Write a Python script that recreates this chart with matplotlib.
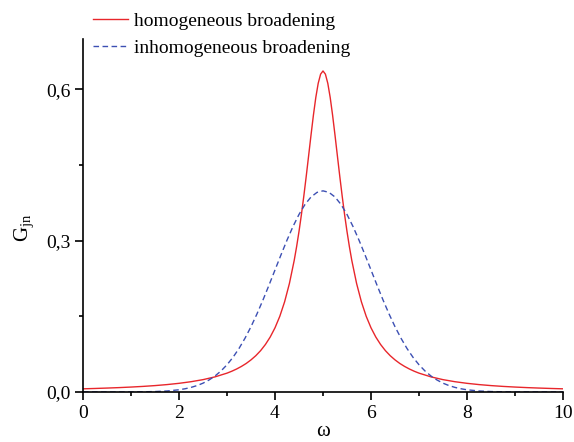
import matplotlib
matplotlib.use("Agg")
import matplotlib.pyplot as plt
from matplotlib.ticker import MultipleLocator, FuncFormatter

plt.rcParams['font.family'] = ['Liberation Serif', 'DejaVu Serif']
plt.rcParams['mathtext.fontset'] = 'custom'
plt.rcParams['mathtext.rm'] = 'Liberation Serif'
plt.rcParams['mathtext.it'] = 'Liberation Serif:italic'

# homogeneous broadening
omega_h = [0.0, 0.25, 0.5, 0.75, 1.0, 1.25, 1.5, 1.75, 2.0, 2.25, 2.5, 2.75,
           3.0, 3.1, 3.2, 3.3, 3.4, 3.5, 3.6, 3.7, 3.8, 3.9, 4.0, 4.1, 4.2, 4.3,
           4.4, 4.45, 4.5, 4.55, 4.6, 4.65, 4.7, 4.75, 4.8, 4.85, 4.9, 4.95, 5.0,
           5.05, 5.1, 5.15, 5.2, 5.25, 5.3, 5.35, 5.4, 5.45, 5.5, 5.55, 5.6, 5.7,
           5.8, 5.9, 6.0, 6.1, 6.2, 6.3, 6.4, 6.5, 6.6, 6.7, 6.8, 6.9, 7.0,
           7.25, 7.5, 7.75, 8.0, 8.25, 8.5, 8.75, 9.0, 9.25, 9.5, 9.75, 10.0]
g_homog = [0.0063, 0.0070, 0.0078, 0.0087, 0.0098, 0.0111, 0.0127, 0.0147, 0.0172,
           0.0204, 0.0245, 0.0300,
           0.0374, 0.0412, 0.0456, 0.0507, 0.0566, 0.0637, 0.0720, 0.0820, 0.0942,
           0.1090, 0.1273, 0.1501, 0.1788, 0.2151, 0.2609, 0.2881, 0.3183, 0.3517,
           0.3882, 0.4273, 0.4681, 0.5093, 0.5488, 0.5840, 0.6121, 0.6303, 0.6366,
           0.6303, 0.6121, 0.5840, 0.5488, 0.5093, 0.4681, 0.4273, 0.3882, 0.3517,
           0.3183, 0.2881, 0.2609, 0.2151, 0.1788, 0.1501, 0.1273, 0.1090, 0.0942,
           0.0820, 0.0720, 0.0637, 0.0566, 0.0507, 0.0456, 0.0412, 0.0374,
           0.0300, 0.0245, 0.0204, 0.0172, 0.0147, 0.0127, 0.0111, 0.0098, 0.0087,
           0.0078, 0.0070, 0.0063]

# inhomogeneous broadening
omega_i = [0.0, 0.25, 0.5, 0.75, 1.0, 1.25, 1.5, 1.75, 2.0, 2.125, 2.25, 2.375,
           2.5, 2.625, 2.75, 2.875, 3.0, 3.125, 3.25, 3.375, 3.5, 3.625, 3.75,
           3.875, 4.0, 4.125, 4.25, 4.375, 4.5, 4.625, 4.75, 4.875, 5.0, 5.125,
           5.25, 5.375, 5.5, 5.625, 5.75, 5.875, 6.0, 6.125, 6.25, 6.375, 6.5,
           6.625, 6.75, 6.875, 7.0, 7.125, 7.25, 7.375, 7.5, 7.625, 7.75, 7.875,
           8.0, 8.25, 8.5, 8.75, 9.0, 9.25, 9.5, 9.75, 10.0]
g_inhomog = [0.0, 0.0, 0.0, 0.0, 0.0001, 0.0004, 0.0009, 0.0020, 0.0044, 0.0064,
             0.0091, 0.0127, 0.0175, 0.0238, 0.0317, 0.0417, 0.0540, 0.0688, 0.0863,
             0.1066, 0.1295, 0.1550, 0.1826, 0.2119, 0.2420, 0.2720, 0.3011, 0.3282,
             0.3521, 0.3719, 0.3867, 0.3958, 0.3989, 0.3958, 0.3867, 0.3719, 0.3521,
             0.3282, 0.3011, 0.2720, 0.2420, 0.2119, 0.1826, 0.1550, 0.1295, 0.1066,
             0.0863, 0.0688, 0.0540, 0.0417, 0.0317, 0.0238, 0.0175, 0.0127, 0.0091,
             0.0064, 0.0044, 0.0020, 0.0009, 0.0004, 0.0001, 0.0, 0.0, 0.0, 0.0]

labels = ['homogeneous broadening', 'inhomogeneous broadening']

fig = plt.figure(figsize=(5.74, 4.42), dpi=100)
ax = fig.add_axes([83/574, 1-392/442, (563-83)/574, (392-39)/442])

ax.plot(omega_h, g_homog, color='#e8262b', lw=1.0, label=labels[0])
ax.plot(omega_i, g_inhomog, color='#3c4fb3', lw=1.0, linestyle=(0, (4, 2.5)), label=labels[1])

ax.set_xlim(0, 10)
ax.set_ylim(0, 0.7)
ax.xaxis.set_major_locator(MultipleLocator(2))
ax.xaxis.set_minor_locator(MultipleLocator(1))
ax.yaxis.set_major_locator(MultipleLocator(0.3))
ax.yaxis.set_minor_locator(MultipleLocator(0.15))
ax.yaxis.set_major_formatter(FuncFormatter(lambda v, p: ('%.1f' % v).replace('.', ',')))
ax.spines['top'].set_visible(False)
ax.spines['right'].set_visible(False)
for s in ('left', 'bottom'):
    ax.spines[s].set_linewidth(1.2)
ax.tick_params(which='major', direction='out', length=6, width=1.2, labelsize=14, pad=3)
ax.tick_params(which='minor', direction='out', length=3, width=1.2)

ax.set_xlabel('ω', fontsize=15, labelpad=0)
ax.set_ylabel(r'G$_{\rm jn}$', fontsize=15)
ax.yaxis.set_label_coords(-0.098, 0.465)

fig.legend(loc='upper left', bbox_to_anchor=(93/574, 1-12/442), frameon=False,
           fontsize=14, borderpad=0, borderaxespad=0, handlelength=1.8,
           handletextpad=0.3, labelspacing=0.5)

fig.savefig('out.png', dpi=100)
